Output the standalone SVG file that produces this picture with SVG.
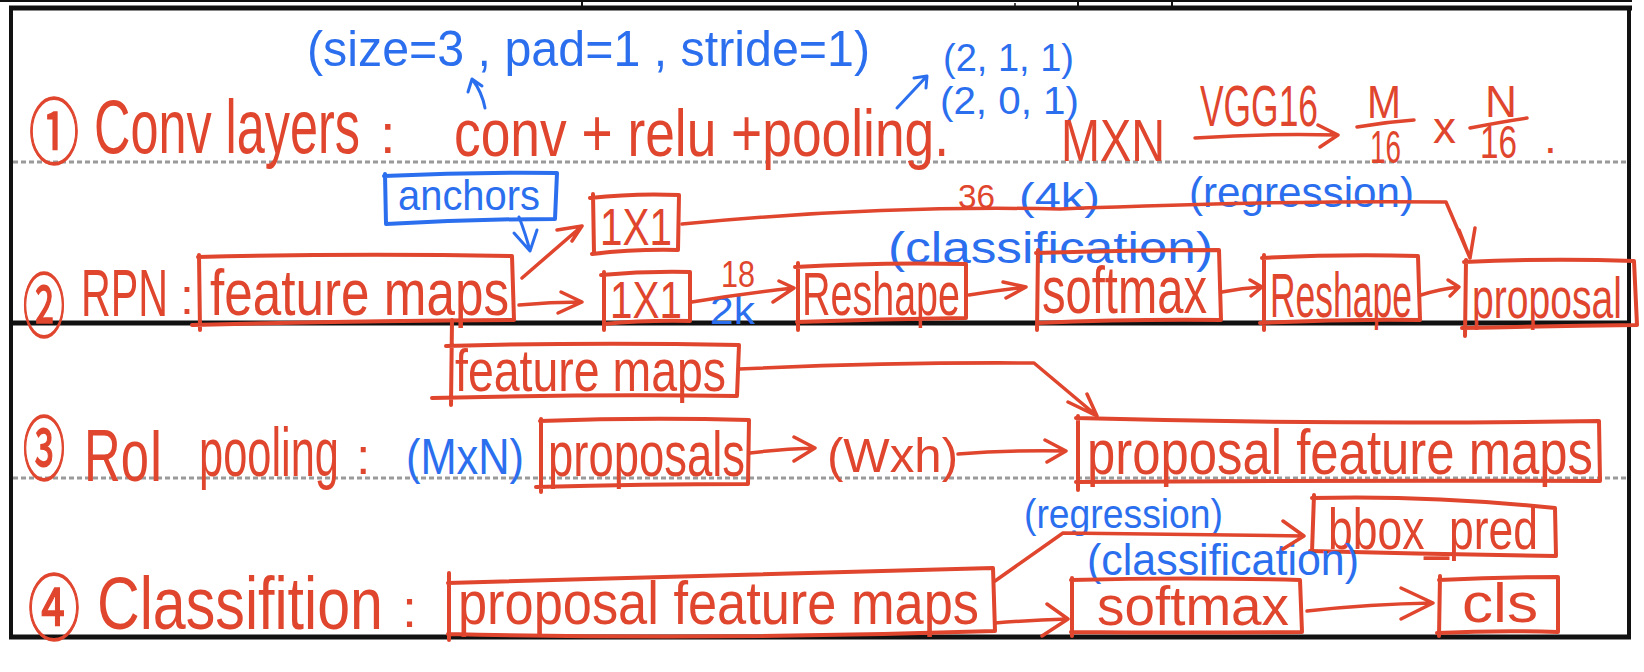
<svg xmlns="http://www.w3.org/2000/svg" width="1644" height="672" viewBox="0 0 1644 672">
<defs>
<style>
.r{fill:#E0452E;font-family:"Liberation Sans","DejaVu Sans",sans-serif}
.b{fill:#2B6FEF;font-family:"Liberation Sans","DejaVu Sans",sans-serif}
.c{fill:#E0452E;stroke:#E0452E;stroke-width:1;font-family:"Noto Sans CJK SC","DejaVu Sans",sans-serif}
.box{fill:none;stroke:#E0452E;stroke-width:4;stroke-linecap:round;stroke-linejoin:round}
.bbox{fill:none;stroke:#2B6FEF;stroke-width:4;stroke-linecap:round;stroke-linejoin:round}
.ar{fill:none;stroke:#E0452E;stroke-width:3.5;stroke-linecap:round;stroke-linejoin:round}
.ab{fill:none;stroke:#2B6FEF;stroke-width:3;stroke-linecap:round;stroke-linejoin:round}
.k{stroke:#111;fill:none}
.dash{stroke:#9a9a9a;stroke-width:3;stroke-dasharray:5 3;fill:none}
</style>
</defs>
<rect width="1644" height="672" fill="#fff"/>
<g id="frame">
<line class="k" x1="0" y1="1" x2="1632" y2="1" stroke-width="2"/>
<line class="k" x1="582" y1="0" x2="582" y2="8" stroke-width="2"/>
<line class="k" x1="1015" y1="3" x2="1015" y2="8" stroke-width="1.5"/>
<line class="k" x1="1078" y1="0" x2="1078" y2="8" stroke-width="2"/>
<line class="k" x1="1172" y1="0" x2="1172" y2="8" stroke-width="2"/>
<line class="k" x1="9" y1="8" x2="1632" y2="8" stroke-width="5"/>
<line class="k" x1="11" y1="6" x2="11" y2="639" stroke-width="4"/>
<line class="k" x1="1629" y1="6" x2="1629" y2="639" stroke-width="4"/>
<line class="k" x1="9" y1="637" x2="1631" y2="637" stroke-width="5"/>
<line class="k" x1="9" y1="323" x2="1631" y2="323" stroke-width="5"/>
<line class="dash" x1="13" y1="162" x2="1627" y2="162"/>
<line class="dash" x1="13" y1="478" x2="1627" y2="478"/>
</g>
<g id="row1">
<text class="b" transform="translate(307,66) scale(1,1.04)" font-size="48" textLength="563" lengthAdjust="spacingAndGlyphs">(size=3 , pad=1 , stride=1)</text>
<text class="b" x="943" y="71" font-size="38" textLength="131" lengthAdjust="spacingAndGlyphs">(2, 1, 1)</text>
<text class="b" x="940" y="114" font-size="38" textLength="139" lengthAdjust="spacingAndGlyphs">(2, 0, 1)</text>
<text class="c" transform="translate(29,158) scale(1,1.44)" font-size="50" textLength="50" lengthAdjust="spacingAndGlyphs">①</text>
<text class="r" transform="translate(94,153) scale(1,1.5)" font-size="50.4" textLength="266" lengthAdjust="spacingAndGlyphs">Conv layers</text>
<text class="r" x="380" y="153" font-size="56">:</text>
<text class="r" transform="translate(454,156) scale(1,1.24)" font-size="53.3" textLength="495" lengthAdjust="spacingAndGlyphs">conv + relu +pooling.</text>
<text class="r" transform="translate(1061,161) scale(1,1.28)" font-size="46.8" textLength="104" lengthAdjust="spacingAndGlyphs">MXN</text>
<text class="r" transform="translate(1200,126) scale(1,1.64)" font-size="35.4" textLength="118" lengthAdjust="spacingAndGlyphs">VGG16</text>
<text class="r" transform="translate(1367,118) scale(1,1.13)" font-size="40.8" textLength="34" lengthAdjust="spacingAndGlyphs">M</text>
<text class="r" transform="translate(1370,163) scale(1,1.65)" font-size="27.9" textLength="31" lengthAdjust="spacingAndGlyphs">16</text>
<text class="r" x="1433" y="143" font-size="44" textLength="23" lengthAdjust="spacingAndGlyphs">x</text>
<text class="r" x="1485" y="117" font-size="44" textLength="32" lengthAdjust="spacingAndGlyphs">N</text>
<text class="r" transform="translate(1480,158) scale(1,1.38)" font-size="33.3" textLength="37" lengthAdjust="spacingAndGlyphs">16</text>
<text class="r" x="1544" y="153" font-size="46">.</text>
<path class="ar" d="M1357,127 Q1385,122 1414,120 M1470,128 Q1500,122 1527,118"/>
</g>
<g id="row2">
<g id="n-anchors"><path class="bbox" d="M384,176 Q470,172 557,173 L555,219 Q470,219 386,224 M385,174 L386,224"/><text class="b" transform="translate(398,210) scale(1,1.05)" font-size="39.9" textLength="142" lengthAdjust="spacingAndGlyphs">anchors</text></g>
<g id="n-1x1a"><path class="box" d="M590,198 Q635,193 679,195 L678,250 Q635,249 592,254 M593,194 L594,254"/><text class="r" transform="translate(600,245) scale(1,1.28)" font-size="40.5" textLength="72" lengthAdjust="spacingAndGlyphs">1X1</text></g>
<text class="r" x="958" y="208" font-size="33" textLength="37" lengthAdjust="spacingAndGlyphs">36</text>
<text class="b" x="1019" y="210" font-size="38" textLength="81" lengthAdjust="spacingAndGlyphs">(4k)</text>
<text class="b" x="1189" y="207" font-size="42" textLength="225" lengthAdjust="spacingAndGlyphs">(regression)</text>
<text class="b" x="888" y="263" font-size="44" textLength="325" lengthAdjust="spacingAndGlyphs">(classification)</text>
<text class="c" transform="translate(23,332) scale(1,1.67)" font-size="42" textLength="42" lengthAdjust="spacingAndGlyphs">②</text>
<text class="r" transform="translate(81,316) scale(1,1.6)" font-size="41.2" textLength="87" lengthAdjust="spacingAndGlyphs">RPN</text>
<text class="r" x="180" y="314" font-size="50">:</text>
<g id="n-fm2"><path class="box" d="M198,257 Q350,253 512,256 L514,320 Q350,321 192,325 M199,255 L200,330"/><text class="r" transform="translate(210,315) scale(1,1.25)" font-size="51.2" textLength="299" lengthAdjust="spacingAndGlyphs">feature maps</text></g>
<g id="n-1x1b"><path class="box" d="M601,275 Q645,271 690,272 L690,321 Q645,320 604,324 M604,272 L604,330"/><text class="r" transform="translate(610,318) scale(1,1.28)" font-size="40.5" textLength="72" lengthAdjust="spacingAndGlyphs">1X1</text></g>
<text class="r" transform="translate(721,287) scale(1,1.18)" font-size="30.6" textLength="34" lengthAdjust="spacingAndGlyphs">18</text>
<text class="b" x="710" y="324" font-size="38" textLength="45" lengthAdjust="spacingAndGlyphs">2k</text>
<g id="n-reshape1"><path class="box" d="M795,267 Q880,262 966,264 L966,318 Q880,319 797,322 M798,263 L798,330"/><text class="r" transform="translate(802,315) scale(1,1.57)" font-size="39.5" textLength="158" lengthAdjust="spacingAndGlyphs">Reshape</text></g>
<g id="n-softmax1"><path class="box" d="M1036,253 Q1130,250 1219,250 L1221,320 Q1130,319 1037,323 M1038,250 L1037,330"/><text class="r" transform="translate(1042,313) scale(1,1.4)" font-size="47.1" textLength="165" lengthAdjust="spacingAndGlyphs">softmax</text></g>
<g id="n-reshape2"><path class="box" d="M1262,258 Q1340,254 1418,256 L1420,320 Q1340,319 1260,323 M1264,255 L1264,330"/><text class="r" transform="translate(1270,317) scale(1,1.75)" font-size="35.5" textLength="142" lengthAdjust="spacingAndGlyphs">Reshape</text></g>
<g id="n-proposal"><path class="box" d="M1464,262 Q1550,258 1634,261 L1637,325 Q1550,326 1462,328 M1466,260 L1465,336"/><text class="r" transform="translate(1472,318) scale(1,1.48)" font-size="39.1" textLength="150" lengthAdjust="spacingAndGlyphs">proposal</text></g>
</g>
<g id="row3">
<g id="n-fm3"><path class="box" d="M446,346 Q590,342 739,345 L737,396 Q590,394 432,398 M452,320 L451,405"/><text class="r" transform="translate(455,391) scale(1,1.29)" font-size="46.4" textLength="271" lengthAdjust="spacingAndGlyphs">feature maps</text></g>
<text class="c" transform="translate(23,475) scale(1,1.67)" font-size="42" textLength="42" lengthAdjust="spacingAndGlyphs">③</text>
<text class="r" transform="translate(84,481) scale(1,1.46)" font-size="50.8" textLength="79" lengthAdjust="spacingAndGlyphs">RoI</text>
<text class="r" transform="translate(199,476) scale(1,1.57)" font-size="43.4" textLength="140" lengthAdjust="spacingAndGlyphs">pooling</text>
<text class="r" x="356" y="474" font-size="52">:</text>
<text class="b" transform="translate(406,474) scale(1,1.15)" font-size="43.4" textLength="118" lengthAdjust="spacingAndGlyphs">(MxN)</text>
<g id="n-proposals"><path class="box" d="M540,421 Q645,417 749,420 L748,484 Q645,484 536,487 M541,419 L541,492"/><text class="r" transform="translate(548,476) scale(1,1.37)" font-size="45.4" textLength="197" lengthAdjust="spacingAndGlyphs">proposals</text></g>
<text class="r" x="827" y="472" font-size="49" textLength="131" lengthAdjust="spacingAndGlyphs">(Wxh)</text>
<g id="n-pfm3"><path class="box" d="M1076,418 Q1340,425 1599,421 L1600,481 Q1340,480 1076,482 M1078,416 L1078,490"/><text class="r" transform="translate(1087,474) scale(1,1.22)" font-size="50.9" textLength="506" lengthAdjust="spacingAndGlyphs">proposal feature maps</text></g>
</g>
<g id="row4">
<text class="b" transform="translate(1024,528) scale(1,1.07)" font-size="37.3" textLength="199" lengthAdjust="spacingAndGlyphs">(regression)</text>
<g id="n-bbox"><path class="box" d="M1312,498 Q1430,495 1555,508 L1556,556 Q1430,554 1310,551 M1314,495 L1312,552"/><text class="r" transform="translate(1328,549) scale(1,1.3)" font-size="44.4" textLength="210" lengthAdjust="spacingAndGlyphs">bbox_pred</text></g>
<text class="b" transform="translate(1087,575) scale(1,1.03)" font-size="42.9" textLength="272" lengthAdjust="spacingAndGlyphs">(classification)</text>
<text class="c" transform="translate(28,634) scale(1,1.38)" font-size="52" textLength="52" lengthAdjust="spacingAndGlyphs">④</text>
<text class="r" transform="translate(97,629) scale(1,1.25)" font-size="59.2" textLength="286" lengthAdjust="spacingAndGlyphs">Classifition</text>
<text class="r" x="402" y="627" font-size="54">:</text>
<g id="n-pfm4"><path class="box" d="M448,583 Q720,575 993,568 L995,631 Q720,640 448,634 M449,573 L449,640"/><text class="r" transform="translate(458,624) scale(1,1.18)" font-size="52.4" textLength="521" lengthAdjust="spacingAndGlyphs">proposal feature maps</text></g>
<g id="n-softmax2"><path class="box" d="M1071,580 Q1185,577 1300,580 L1302,632 Q1185,633 1071,632 M1072,578 L1072,636"/><text class="r" transform="translate(1097,625) scale(1,1.02)" font-size="54.8" textLength="192" lengthAdjust="spacingAndGlyphs">softmax</text></g>
<g id="n-cls"><path class="box" d="M1439,580 Q1500,577 1558,577 L1558,632 Q1500,630 1437,633 M1440,576 L1439,636"/><text class="r" x="1462" y="622" font-size="56" textLength="76" lengthAdjust="spacingAndGlyphs">cls</text></g>
</g>
<g id="connectors">
<path class="ab" d="M485,108 Q482,92 472,79 M468,92 L472,79 L482,86"/>
<path class="ab" d="M897,108 L927,76 M914,78 L927,76 L926,88"/>
<path class="ar" d="M1195,138 Q1270,133 1338,135 M1318,125 L1338,135 L1320,147"/>
<path class="ab" d="M519,217 Q526,235 530,251 M514,233 L530,251 L537,230"/>
<path class="ar" d="M522,278 L582,226 M557,230 L582,226 L572,241"/>
<path class="ar" d="M682,224 Q880,205 1060,209 Q1300,200 1446,202 L1470,258 M1459,230 L1470,258 L1475,228"/>
<path class="ar" d="M519,305 Q550,302 582,302 M561,292 L582,302 L558,313"/>
<path class="ar" d="M692,302 Q740,294 794,288 M779,281 L794,288 L773,302"/>
<path class="ar" d="M969,295 Q998,290 1026,287 M1003,282 L1026,287 L1006,298"/>
<path class="ar" d="M1222,292 Q1242,288 1262,287 M1250,280 L1262,287 L1251,296"/>
<path class="ar" d="M1421,295 Q1440,289 1459,287 M1448,280 L1459,287 L1450,296"/>
<path class="ar" d="M739,369 Q890,362 1034,363 L1097,416 M1068,402 L1097,416 L1087,394"/>
<path class="ar" d="M750,453 Q782,449 815,448 M794,437 L815,448 L794,461"/>
<path class="ar" d="M958,454 Q1010,450 1066,451 M1045,440 L1066,451 L1047,462"/>
<path class="ar" d="M995,581 L1063,533 Q1180,534 1304,536 M1283,521 L1304,536 L1283,549"/>
<path class="ar" d="M995,623 Q1030,620 1068,619 M1047,604 L1068,619 L1042,636"/>
<path class="ar" d="M1307,611 Q1370,604 1433,603 M1401,588 L1433,603 L1401,619"/>
</g>
</svg>
